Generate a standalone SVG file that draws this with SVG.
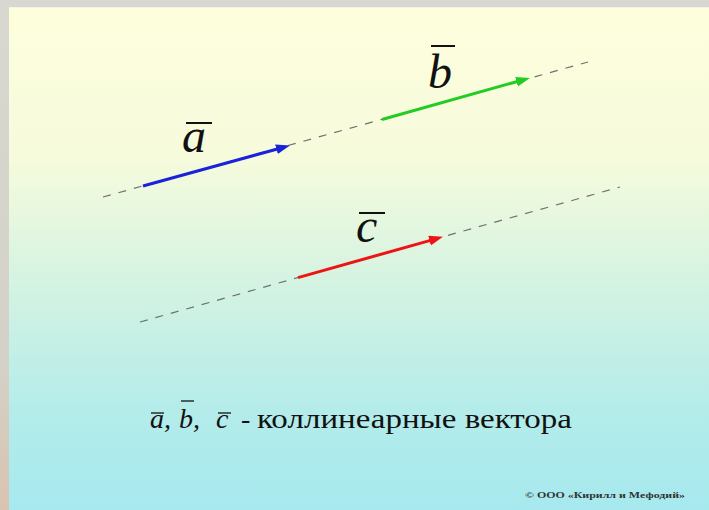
<svg xmlns="http://www.w3.org/2000/svg" width="709" height="510" viewBox="0 0 709 510">
  <defs>
    <linearGradient id="bg" x1="0" y1="0" x2="0" y2="1">
      <stop offset="0" stop-color="#fefedc"/>
      <stop offset="0.3" stop-color="#f6fbdc"/>
      <stop offset="0.55" stop-color="#d4f3e2"/>
      <stop offset="0.8" stop-color="#b4ecea"/>
      <stop offset="1" stop-color="#a6e9ee"/>
    </linearGradient>
    <linearGradient id="frameL" x1="0" y1="0" x2="0" y2="1">
      <stop offset="0" stop-color="#d8d8d0"/>
      <stop offset="0.7" stop-color="#d4d2c8"/>
      <stop offset="1" stop-color="#d8c4b0"/>
    </linearGradient>
    <marker id="hBlue" markerUnits="userSpaceOnUse" markerWidth="16" markerHeight="12" refX="2" refY="5" orient="auto">
      <path d="M0,0 L14,5 L0,10 z" fill="#1c22d8"/>
    </marker>
    <marker id="hGreen" markerUnits="userSpaceOnUse" markerWidth="16" markerHeight="12" refX="2" refY="5" orient="auto">
      <path d="M0,0 L14,5 L0,10 z" fill="#22cc22"/>
    </marker>
    <marker id="hRed" markerUnits="userSpaceOnUse" markerWidth="16" markerHeight="12" refX="2" refY="5" orient="auto">
      <path d="M0,0 L14,5 L0,10 z" fill="#ee1414"/>
    </marker>
  </defs>
  <style>
    .dash { stroke: #707070; stroke-width: 1.2; stroke-dasharray: 8 8; fill: none; }
    .vec { stroke-width: 3; fill: none; stroke-linecap: butt; }
    .lbl { font-style: italic; font-size: 48px; fill: #111; }
    .bar { stroke: #111; stroke-width: 2; }
    .cap { font-size: 28px; fill: #111; }
    .capi { font-style: italic; }
    .sbar { stroke: #111; stroke-width: 1.3; }
    .copy { font-size: 9px; font-weight: bold; fill: #333; }
  </style>

  <!-- background frame and panel -->
  <rect x="0" y="0" width="709" height="510" fill="#d8d8d0"/>
  <rect x="0" y="0" width="9" height="510" fill="url(#frameL)"/>
  <rect x="9" y="7" width="700" height="503" fill="url(#bg)"/>
  <line x1="9" y1="7.5" x2="709" y2="7.5" stroke="#f4f4ee" stroke-width="1"/>

  <!-- connectors: dashed carrier lines and vectors -->
  <g id="connectors">
    <line class="dash" x1="103" y1="197" x2="588" y2="62"/>
    <line class="dash" x1="140" y1="322" x2="620" y2="187"/>
    <line class="vec" stroke="#1c22d8" x1="143" y1="186" x2="278.4" y2="148.7" marker-end="url(#hBlue)"/>
    <line class="vec" stroke="#22cc22" x1="382" y1="119.5" x2="518.4" y2="81.2" marker-end="url(#hGreen)"/>
    <line class="vec" stroke="#ee1414" x1="298" y1="277.6" x2="431.4" y2="240.1" marker-end="url(#hRed)"/>
  </g>

  <!-- vector labels -->
  <g id="label-a" font-family="'Liberation Serif', 'Times New Roman', 'DejaVu Serif', serif">
    <text class="lbl" x="182" y="152">a</text>
    <line class="bar" x1="186" y1="123" x2="212" y2="123"/>
  </g>
  <g id="label-b" font-family="'Liberation Serif', 'Times New Roman', 'DejaVu Serif', serif">
    <text class="lbl" x="428" y="88">b</text>
    <line class="bar" x1="431" y1="46" x2="455" y2="46"/>
  </g>
  <g id="label-c" font-family="'Liberation Serif', 'Times New Roman', 'DejaVu Serif', serif">
    <text class="lbl" x="356" y="242">c</text>
    <line class="bar" x1="359" y1="213" x2="385" y2="213"/>
  </g>

  <!-- caption -->
  <g id="caption" font-family="'Liberation Serif', 'Times New Roman', 'DejaVu Serif', serif">
    <text class="cap capi" x="150" y="428">a,</text>
    <text class="cap capi" x="179" y="428">b,</text>
    <text class="cap capi" x="216" y="428">c</text>
    <text class="cap" x="241" y="428">-</text>
    <text class="cap" x="257" y="428" textLength="315" lengthAdjust="spacingAndGlyphs">коллинеарные вектора</text>
    <line class="sbar" x1="151" y1="413" x2="164" y2="413"/>
    <line class="sbar" x1="181" y1="401" x2="194" y2="401"/>
    <line class="sbar" x1="218" y1="413" x2="231" y2="413"/>
  </g>

  <g id="copyright" font-family="'Liberation Serif', 'Times New Roman', 'DejaVu Serif', serif">
    <text class="copy" x="525" y="498" textLength="160" lengthAdjust="spacingAndGlyphs">© ООО «Кирилл и Мефодий»</text>
  </g>
</svg>
